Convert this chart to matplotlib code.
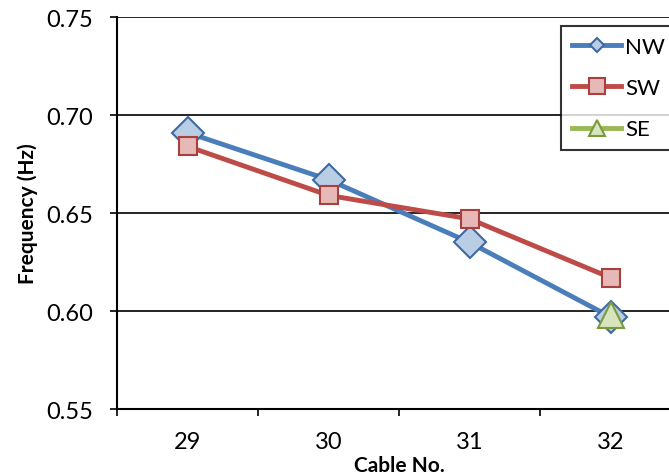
import matplotlib
matplotlib.use("Agg")
import matplotlib.pyplot as plt
import numpy as np

plt.rcParams["font.family"] = ["Lato", "DejaVu Sans"]

cables = ["29", "30", "31", "32"]
nw = [0.691, 0.667, 0.635, 0.597]
sw = [0.684, 0.659, 0.647, 0.617]
se = [np.nan, np.nan, np.nan, 0.598]

STYLES = {
    "NW": dict(color="#4A7EBB", marker="D", ms=16, mfc="#B9CDE5", mec="#3D6AA0"),
    "SW": dict(color="#BE4B48", marker="s", ms=13, mfc="#E6B9B8", mec="#A8403D"),
    "SE": dict(color="#98B954", marker="^", ms=19, mfc="#D7E4BD", mec="#7A9A3C"),
}
LEGEND_MS = {"NW": 7.5, "SW": 12, "SE": 12}

fig = plt.figure(figsize=(6.69, 4.77), dpi=100)
ax = fig.add_axes([117 / 669, 1 - 410 / 477, 564 / 669, 392 / 477])

x = np.arange(len(cables))
for name, vals in [("NW", nw), ("SW", sw), ("SE", se)]:
    ax.plot(x, vals, lw=3.5, mew=1.5, label=name, **STYLES[name])

ax.set_xlim(-0.5, 3.5)
ax.set_ylim(0.55, 0.75)
ax.set_yticks([0.55, 0.60, 0.65, 0.70, 0.75])
ax.set_yticklabels(["0.55", "0.60", "0.65", "0.70", "0.75"])
ax.set_xticks(x)
ax.set_xticklabels(cables)
ax.set_xticks(np.arange(-0.5, 4.0, 1.0), minor=True)
ax.tick_params(axis="x", which="major", length=0, labelsize=17, pad=16)
ax.tick_params(axis="x", which="minor", length=5, width=1.2, direction="out")
ax.tick_params(axis="y", length=5, width=1.2, direction="out", labelsize=17, pad=12)

ax.grid(axis="y", color="black", linewidth=1.2)
for s in ["top", "right"]:
    ax.spines[s].set_visible(False)
for s in ["left", "bottom"]:
    ax.spines[s].set_linewidth(1.5)
ax.set_axisbelow(True)

ax.set_xlabel("Cable No.", fontsize=15, fontweight="bold", labelpad=2)
ax.set_ylabel("Frequency (Hz)", fontsize=15, fontweight="bold", labelpad=6)

leg = fig.legend(loc="upper left", bbox_to_anchor=(561 / 669, 0.5, 0.3, 1 - 27 / 477 - 0.5),
                 mode="expand", fontsize=16, frameon=True, fancybox=False,
                 handlelength=2.2, labelspacing=0.95, borderaxespad=0, handletextpad=0.2,
                 borderpad=0.5)
leg.get_frame().set_edgecolor("black")
leg.get_frame().set_linewidth(1.5)
for h, t in zip(leg.legend_handles, leg.get_texts()):
    h.set_markersize(LEGEND_MS[t.get_text()])

fig.savefig("out.png", dpi=100)
